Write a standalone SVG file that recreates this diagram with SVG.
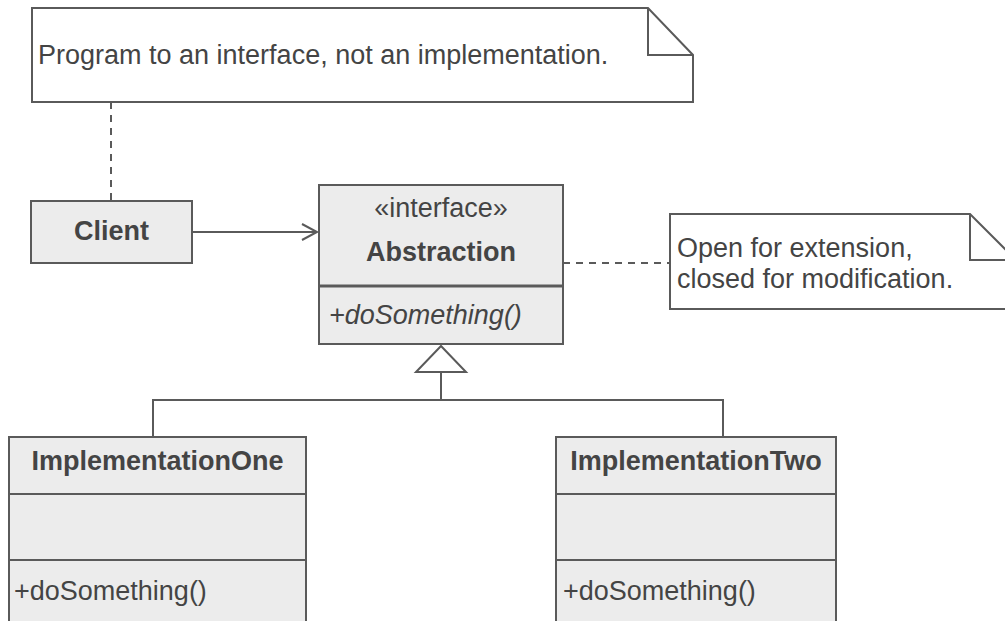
<svg xmlns="http://www.w3.org/2000/svg" width="1005" height="621" viewBox="0 0 1005 621">
<style>
  .box { fill: #ececec; stroke: #5a5a5a; stroke-width: 2; }
  .note { fill: #ffffff; stroke: #5a5a5a; stroke-width: 2; stroke-linejoin: miter; }
  .line { fill: none; stroke: #5a5a5a; stroke-width: 2; }
  .dash { fill: none; stroke: #5a5a5a; stroke-width: 2; stroke-dasharray: 7 6; }
  text { font-family: "Liberation Sans", Arial, sans-serif; font-size: 27px; fill: #444444; }
  .b { font-weight: bold; }
  .i { font-style: italic; }
  .c { text-anchor: middle; }
</style>
<defs>
  <marker id="open" markerWidth="20" markerHeight="20" refX="17" refY="10" orient="auto" markerUnits="userSpaceOnUse">
    <path d="M2,2 L17,10 L2,18" fill="none" stroke="#5a5a5a" stroke-width="2"/>
  </marker>
</defs>
<rect width="1005" height="621" fill="#ffffff"/>
<g id="connectors">
  <line class="dash" x1="111" y1="102" x2="111" y2="201"/>
  <line class="line" x1="192" y1="232" x2="317" y2="232" marker-end="url(#open)"/>
  <line class="dash" x1="563" y1="263" x2="670" y2="263"/>
  <path class="line" d="M153,437 V400 H723 V437"/>
  <line class="line" x1="441" y1="372" x2="441" y2="400"/>
  <polygon class="note" points="441,346 416,372 466,372"/>
</g>
<g id="note1">
  <path class="note" d="M32,8 H648 L693,55 V102 H32 Z"/>
  <path class="line" d="M648,8 V55 H693"/>
  <text x="38" y="64">Program to an interface, not an implementation.</text>
</g>
<g id="client">
  <rect class="box" x="31" y="201" width="161" height="62"/>
  <text class="b c" x="111.5" y="240">Client</text>
</g>
<g id="abstraction">
  <rect class="box" x="319" y="185" width="244" height="159"/>
  <line class="line" x1="319" y1="286" x2="563" y2="286" style="stroke-width:3"/>
  <text class="c" x="441" y="217">«interface»</text>
  <text class="b c" x="441" y="261">Abstraction</text>
  <text class="i" x="329" y="324">+doSomething()</text>
</g>
<g id="note2">
  <path class="note" d="M670,214 H970 L1016,260 V309 H670 Z"/>
  <path class="line" d="M970,214 V260 H1016"/>
  <text x="677" y="257">Open for extension,</text>
  <text x="677" y="288">closed for modification.</text>
</g>
<g id="impl1">
  <rect class="box" x="9" y="437" width="297" height="200"/>
  <line class="line" x1="9" y1="494" x2="306" y2="494"/>
  <line class="line" x1="9" y1="560" x2="306" y2="560"/>
  <text class="b c" x="157.5" y="470">ImplementationOne</text>
  <text x="14" y="600">+doSomething()</text>
</g>
<g id="impl2">
  <rect class="box" x="556" y="437" width="280" height="200"/>
  <line class="line" x1="556" y1="494" x2="836" y2="494"/>
  <line class="line" x1="556" y1="560" x2="836" y2="560"/>
  <text class="b c" x="696" y="470">ImplementationTwo</text>
  <text x="563" y="600">+doSomething()</text>
</g>
</svg>
